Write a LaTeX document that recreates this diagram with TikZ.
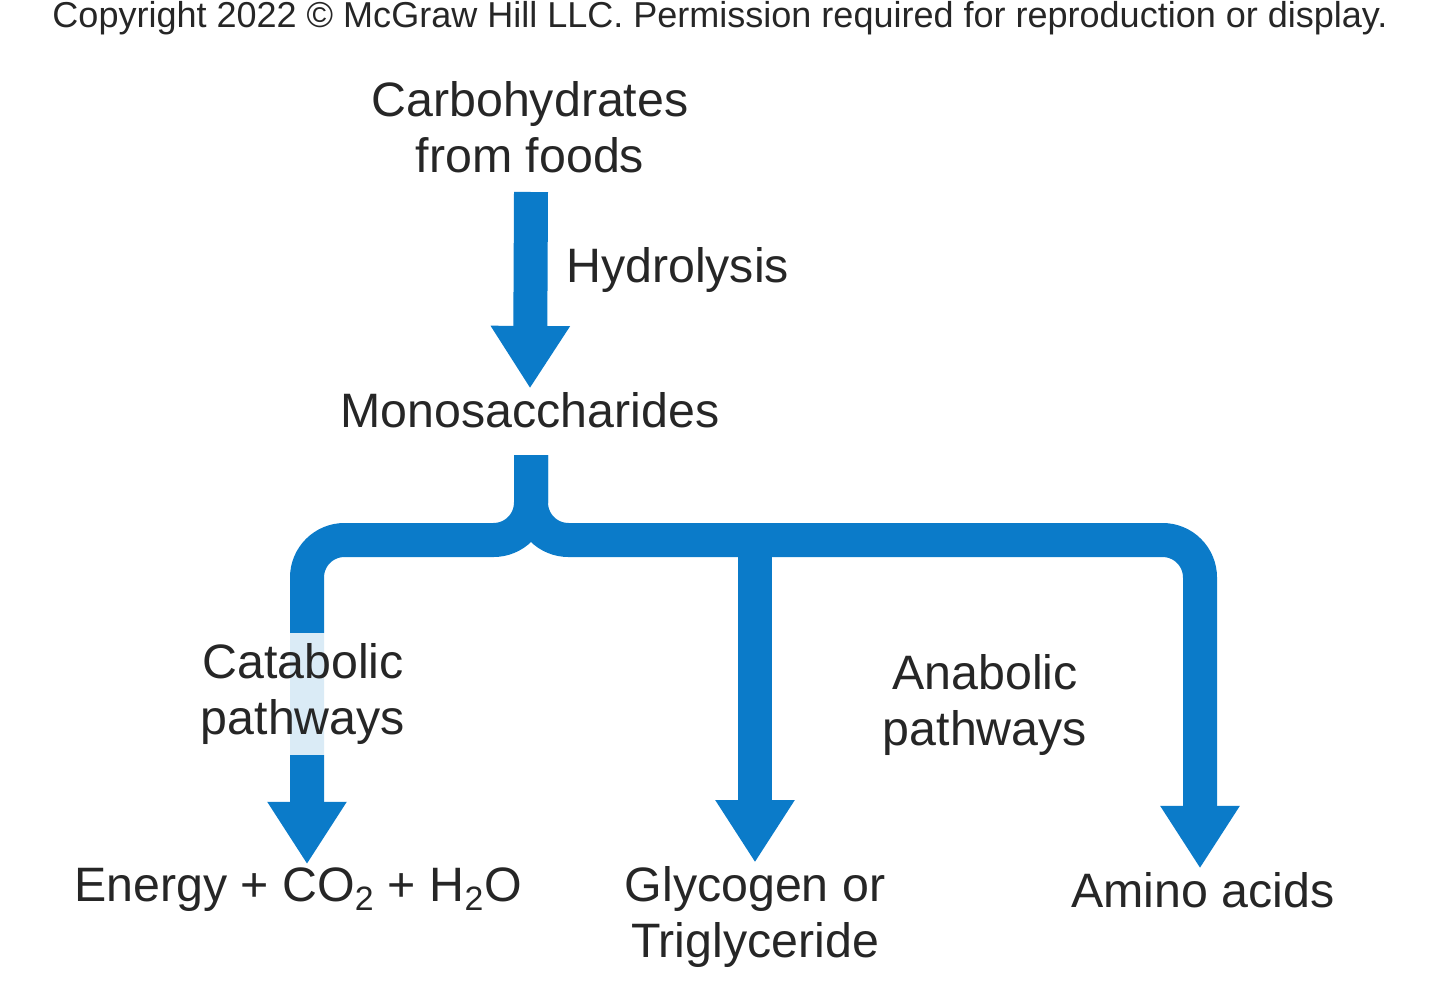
\documentclass[tikz,border=0pt]{standalone}
\usepackage{fontspec}
\setmainfont{Liberation Sans}
\usetikzlibrary{arrows.meta,positioning}
\definecolor{pathblue}{HTML}{0B7BC9}
\tikzset{>={Triangle[width=1.5cm,length=1.25cm]}}

\begin{document}
\begin{tikzpicture}[x=0.02cm,y=-0.02cm,
  every node/.style={align=center, font=\fontsize{27.5}{32}\selectfont, text=black!85, inner ysep=2pt},
  flow/.style={draw=pathblue, line width=0.68cm, rounded corners=0.75cm}]
\useasboundingbox (0,0) rectangle (1440,987);
\node[font=\fontsize{20.5}{24}\selectfont] (copy) at (720,18) {Copyright 2022 \textcopyright\ McGraw Hill LLC. Permission required for reproduction or display.};
\node (carb) at (530,127) {Carbohydrates\\from foods};
\node (mono) at (530,410) {Monosaccharides};
\node[anchor=west] (hydro) at (560,270) {Hydrolysis};
\node (energy) at (298,890) {Energy + CO\textsubscript{2} + H\textsubscript{2}O};
\node (glyco) at (755,917) {Glycogen or\\Triglyceride};
\node (amino) at (1203,890) {Amino acids};
% branch points
\coordinate (stem) at (531,455);
\coordinate (bar) at (755,540);
%
\draw[flow,->] (531,192) -- (mono.north);
\draw[flow,->] (stem) -- (531,540) -- (307,540) -- (energy.north -| 307,0);
\draw[flow,->] (stem) -- (531,540) -- (1200,540) -- (amino.north -| 1200,0);
\draw[flow,->] (bar) -- (glyco.north);
\node[fill=white, fill opacity=0.85, text opacity=1, inner ysep=6pt] (cata) at (303,694) {Catabolic\\pathways};
\node (ana) at (985,705) {Anabolic\\pathways};
\end{tikzpicture}
\end{document}
